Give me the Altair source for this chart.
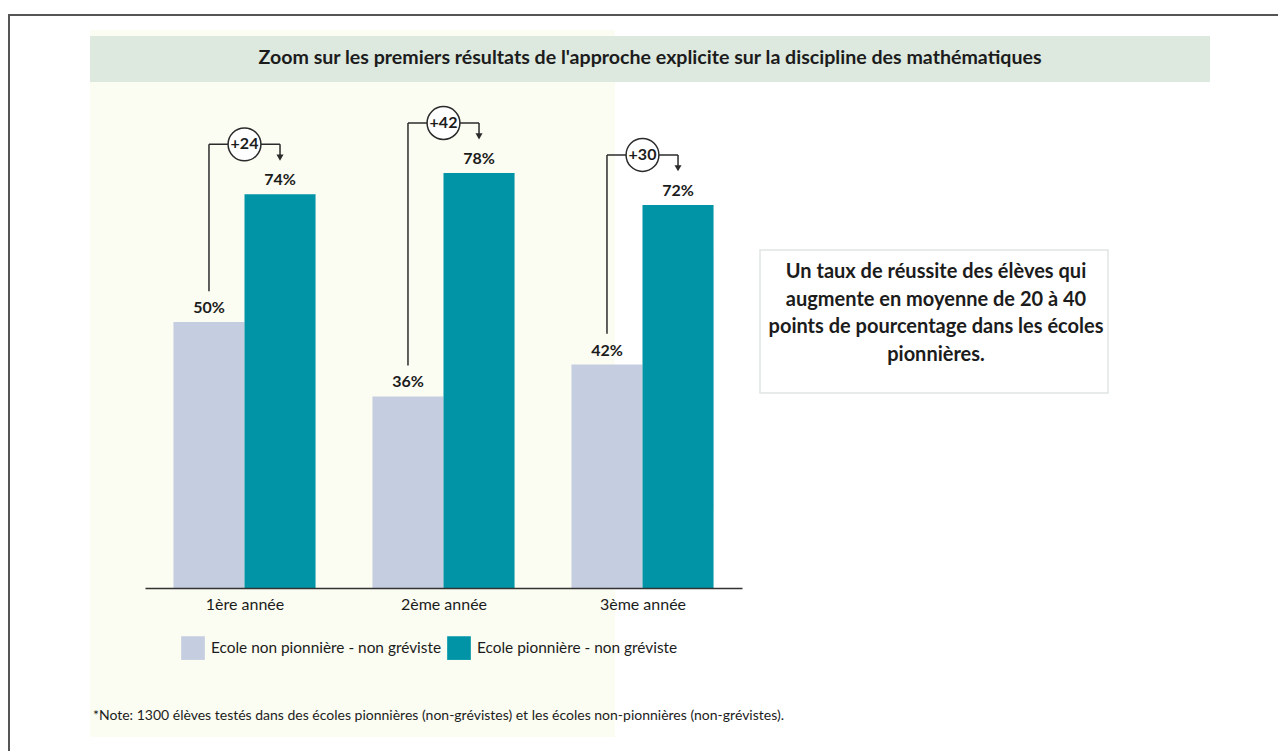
import altair as alt
import pandas as pd

# ---------------- data ----------------
categories = ["1ère année", "2ème année", "3ème année"]
non_pionniere = [50, 36, 42]
pionniere = [74, 78, 72]
gains = ["+24", "+42", "+30"]
series = ["Ecole non pionnière - non gréviste", "Ecole pionnière - non gréviste"]
colors = ["#c5cde0", "#0094a6"]

title_text = "Zoom sur les premiers résultats de l'approche explicite sur la discipline des mathématiques"
box_lines = [
    "Un taux de réussite des élèves qui",
    "augmente en moyenne de 20 à 40",
    "points de pourcentage dans les écoles",
    "pionnières.",
]
note_text = ("*Note: 1300 élèves testés dans des écoles pionnières (non-grévistes) "
             "et les écoles non-pionnières (non-grévistes).")

FONT = "Lato"
DARK = "#1c1c1c"

# ---------------- tables built from the arrays ----------------
BW = 0.357  # bar width in group units
rows = []
for i, cat in enumerate(categories):
    rows.append(dict(cat=cat, serie=series[0], value=non_pionniere[i],
                     x0=i - BW, x1=i, xc=i - BW / 2, label=f"{non_pionniere[i]}%"))
    rows.append(dict(cat=cat, serie=series[1], value=pionniere[i],
                     x0=i, x1=i + BW, xc=i + BW / 2, label=f"{pionniere[i]}%"))
bars = pd.DataFrame(rows)

brows = []
for i in range(len(categories)):
    brows.append(dict(xl=i - BW / 2, xr=i + BW / 2, xm=i,
                      y_start=non_pionniere[i] + 5.8,
                      y_top=pionniere[i] + 9.4,
                      y_arrow=pionniere[i] + 6.9,
                      gain=gains[i]))
brk = pd.DataFrame(brows)
dummy = pd.DataFrame({"d": [0]})

xscale = alt.Scale(domain=[-0.5, 2.5], nice=False, zero=False)
yscale = alt.Scale(domain=[0, 100], nice=False)
label_expr = "[" + ",".join(f"'{c}'" for c in categories) + "][datum.value]"
xaxis = alt.Axis(values=[0, 1, 2], labelExpr=label_expr, title=None, ticks=False,
                 grid=False, domain=True, domainColor="#333333", domainWidth=1.5,
                 labelFontSize=16, labelFont=FONT, labelColor=DARK, labelPadding=8,
                 labelFlush=False, labelOverlap=False, zindex=1)


def X(f):
    return alt.X(f, scale=xscale, axis=xaxis)


def Y(f):
    return alt.Y(f, scale=yscale, axis=None)


# plot origin in page pixels: (145, 56)
OX, OY = 145, 56

border = alt.Chart(dummy).mark_rect(fillOpacity=0, stroke="#555555", strokeWidth=2).encode(
    x=alt.value(9 - OX), x2=alt.value(1300 - OX), y=alt.value(15 - OY), y2=alt.value(780 - OY))
cream = alt.Chart(dummy).mark_rect(fill="#fbfcf2").encode(
    x=alt.value(90 - OX), x2=alt.value(615 - OX), y=alt.value(30 - OY), y2=alt.value(737 - OY))
band = alt.Chart(dummy).mark_rect(fill="#dde9df").encode(
    x=alt.value(90 - OX), x2=alt.value(1210 - OX), y=alt.value(36 - OY), y2=alt.value(82 - OY))
title = alt.Chart(dummy).mark_text(text=title_text, font=FONT, fontSize=19.6, fontWeight="bold",
                                   color=DARK, align="center", baseline="middle").encode(
    x=alt.value(650 - OX), y=alt.value(58 - OY))

bar_layer = alt.Chart(bars).mark_bar(stroke=None).encode(
    x=X("x0:Q"), x2="x1:Q", y=Y("value:Q"), y2=alt.datum(0),
    color=alt.Color("serie:N", scale=alt.Scale(domain=series, range=colors),
                    legend=alt.Legend(title=None, orient="none", legendX=36, legendY=580,
                                      direction="horizontal", symbolType="square",
                                      symbolSize=560, symbolStrokeWidth=0,
                                      labelFontSize=15.4, labelFont=FONT, labelColor=DARK,
                                      columnPadding=5, labelOffset=6, labelLimit=400,
                                      padding=0)))

value_labels = alt.Chart(bars).mark_text(font=FONT, fontSize=16, fontWeight="bold", color=DARK,
                                         baseline="bottom", dy=-6).encode(
    x=X("xc:Q"), y=Y("value:Q"), text="label:N")

RULE = dict(color="#2b2b2b", strokeWidth=1.5)
left_v = alt.Chart(brk).mark_rule(**RULE).encode(x=X("xl:Q"), y=Y("y_start:Q"), y2="y_top:Q")
horiz = alt.Chart(brk).mark_rule(**RULE).encode(x=X("xl:Q"), x2="xr:Q", y=Y("y_top:Q"))
right_v = alt.Chart(brk).mark_rule(**RULE).encode(x=X("xr:Q"), y=Y("y_top:Q"), y2="y_arrow:Q")
arrow = alt.Chart(brk).mark_point(shape="triangle-down", filled=True, color="#2b2b2b",
                                  size=50, opacity=1).encode(x=X("xr:Q"), y=Y("y_arrow:Q"))
circle = alt.Chart(brk).mark_point(shape="circle", filled=True, fill="white", stroke="#2b2b2b",
                                   strokeWidth=1.5, size=1080, opacity=1).encode(
    x=X("xm:Q"), y=Y("y_top:Q"))
gain_text = alt.Chart(brk).mark_text(font=FONT, fontSize=16, fontWeight="bold", color=DARK,
                                     baseline="middle").encode(
    x=X("xm:Q"), y=Y("y_top:Q"), text="gain:N")

box = alt.Chart(dummy).mark_rect(fill="white", stroke="#dfe5e4", strokeWidth=1.5).encode(
    x=alt.value(760 - OX), x2=alt.value(1108 - OX), y=alt.value(250 - OY), y2=alt.value(393 - OY))
box_text = alt.Chart(dummy).mark_text(text=box_lines, font=FONT, fontSize=20, fontWeight="bold",
                                      color=DARK, align="center", baseline="middle",
                                      lineHeight=27.5).encode(
    x=alt.value(936 - OX), y=alt.value(272 - OY))

note = alt.Chart(dummy).mark_text(text=note_text, font=FONT, fontSize=14, color=DARK,
                                  align="left", baseline="middle").encode(
    x=alt.value(93 - OX), y=alt.value(716 - OY))

chart = alt.layer(
    border, cream, band, title,
    bar_layer, value_labels,
    left_v, horiz, right_v, arrow, circle, gain_text,
    box, box_text, note,
).properties(
    width=597, height=532,
    autosize=alt.AutoSizeParams(type="none"),
    padding={"left": OX, "top": OY, "right": 1278 - OX - 597, "bottom": 751 - OY - 532},
    background="white",
).configure_view(stroke=None)

chart.save("out.html", embed_options={"renderer": "svg", "actions": False})
